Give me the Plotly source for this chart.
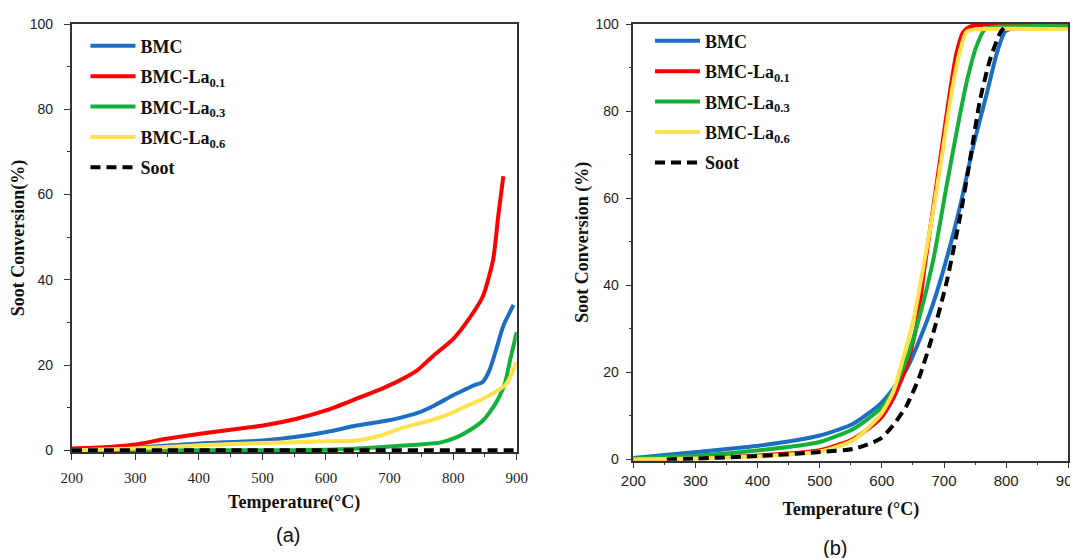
import plotly.graph_objects as go

# ---------------- data: panel (a) ----------------
a_bmc_x = [200, 297, 402, 501, 551, 601, 648, 690, 716, 743, 769, 800, 821, 832, 847, 858, 868, 879, 895]
a_bmc_y = [0.2, 0.6, 1.6, 2.3, 3.1, 4.3, 5.8, 6.8, 7.6, 8.7, 10.4, 12.9, 14.4, 15.2, 16.1, 19.1, 23.8, 29.2, 34.1]

a_la01_x = [200, 250, 297, 349, 402, 450, 501, 554, 601, 648, 690, 716, 743, 769, 800, 821, 847, 863, 871, 879]
a_la01_y = [0.4, 0.7, 1.3, 2.7, 3.9, 4.8, 5.8, 7.4, 9.4, 12.1, 14.6, 16.4, 18.7, 22.2, 26.1, 30.0, 36.2, 44.8, 55.0, 64.3]

a_la03_x = [200, 400, 501, 601, 650, 690, 743, 779, 806, 826, 847, 858, 871, 882, 890, 900]
a_la03_y = [0.0, 0.0, 0.0, 0.1, 0.4, 0.8, 1.3, 1.8, 3.1, 4.7, 7.0, 9.0, 12.1, 16.0, 21.4, 27.7]

a_la06_x = [200, 297, 402, 501, 601, 648, 685, 716, 743, 769, 795, 821, 847, 874, 884, 900]
a_la06_y = [0.0, 0.4, 1.2, 1.7, 2.1, 2.3, 3.4, 5.1, 6.2, 7.2, 8.6, 10.4, 12.1, 14.4, 15.6, 20.7]

a_soot_x = [200, 400, 600, 800, 900]
a_soot_y = [0.0, 0.0, 0.0, 0.0, 0.0]

# ---------------- data: panel (b) ----------------
b_bmc_x = [200, 302, 404, 500, 554, 597, 618, 640, 661, 683, 704, 726, 747, 769, 785, 798, 812, 900]
b_bmc_y = [0.3, 1.7, 3.2, 5.5, 8.2, 12.7, 16.2, 20.8, 27.6, 36.0, 46.0, 58.2, 71.9, 84.1, 93.3, 98.2, 99.0, 99.0]

b_la01_x = [200, 302, 404, 500, 554, 597, 618, 640, 656, 669, 683, 696, 710, 720, 731, 742, 790, 900]
b_la01_y = [0.0, 0.3, 0.9, 2.1, 4.7, 9.3, 13.9, 21.5, 30.7, 44.4, 58.2, 71.1, 84.9, 93.3, 98.2, 99.4, 100.0, 100.0]

b_la03_x = [200, 302, 404, 500, 554, 597, 618, 640, 661, 683, 704, 720, 736, 752, 766, 790, 900]
b_la03_y = [0.2, 0.9, 2.1, 4.0, 7.0, 11.6, 15.8, 23.1, 33.0, 46.0, 62.7, 75.0, 86.4, 94.8, 98.8, 99.4, 99.5]

b_la06_x = [200, 302, 404, 500, 554, 597, 618, 634, 651, 667, 683, 699, 712, 726, 736, 752, 900]
b_la06_y = [0.0, 0.2, 0.7, 1.8, 4.4, 10.1, 15.4, 23.1, 32.2, 44.4, 57.4, 71.9, 84.1, 94.0, 98.2, 98.8, 98.8]

b_soot_x = [254, 302, 404, 500, 554, 597, 618, 640, 661, 683, 704, 726, 742, 758, 774, 790, 798]
b_soot_y = [0.0, 0.2, 0.8, 1.7, 2.4, 4.7, 7.8, 12.4, 19.2, 29.2, 40.6, 55.9, 68.9, 82.6, 91.8, 97.9, 99.4]

names = ["BMC", "BMC-La<sub>0.1</sub>", "BMC-La<sub>0.3</sub>", "BMC-La<sub>0.6</sub>", "Soot"]
colors = ["#1D6EC2", "#FF0000", "#14B03A", "#FFE14D", "#000000"]
x_ticks = [200, 300, 400, 500, 600, 700, 800, 900]
y_ticks = [0, 20, 40, 60, 80, 100]

panel_a = [(a_bmc_x, a_bmc_y), (a_la01_x, a_la01_y), (a_la03_x, a_la03_y), (a_la06_x, a_la06_y), (a_soot_x, a_soot_y)]
panel_b = [(b_bmc_x, b_bmc_y), (b_la01_x, b_la01_y), (b_la03_x, b_la03_y), (b_la06_x, b_la06_y), (b_soot_x, b_soot_y)]

fig = go.Figure()
for panel, xa, ya, leg in [(panel_a, "x", "y", "legend"), (panel_b, "x2", "y2", "legend2")]:
    for i, (xs, ys) in enumerate(panel):
        dash = "10px,6px" if i == 4 else "solid"
        fig.add_trace(go.Scatter(
            x=xs, y=ys, mode="lines", name="<b>" + names[i] + "</b>",
            line=dict(color=colors[i], width=4, dash=dash, shape="spline", smoothing=0.6),
            xaxis=xa, yaxis=ya, legend=leg, legendgroup=f"{leg}{i}",
        ))

serif = "Liberation Serif"
sans = "Liberation Sans"
axis_common = dict(showline=True, linecolor="#333333", linewidth=1.5, mirror=True,
                   ticks="outside", ticklen=6, tickwidth=1.2, tickcolor="#333333",
                   showgrid=False, zeroline=False, automargin=False, ticklabeloverflow="allow")

W, H = 1070, 550  # page body has an 8px margin


def px_x(p):
    return (p - 8) / W


def px_y(p):
    return 1 - (p - 8) / H


fig.update_layout(
    width=W, height=H,
    margin=dict(l=0, r=0, t=0, b=0, pad=0),
    paper_bgcolor="white", plot_bgcolor="white",
    xaxis=dict(domain=[px_x(71.7), px_x(516.7)], range=[200, 900], tickvals=x_ticks,
               tickfont=dict(family=serif, size=15, color="#222"),
               minor=dict(dtick=50, ticks="outside", ticklen=3, tickcolor="#333333"),
               title=dict(text="<b>Temperature(°C)</b>", font=dict(family=serif, size=18, color="#111"), standoff=11),
               ticklabelstandoff=5,
               anchor="y", **axis_common),
    yaxis=dict(domain=[px_y(452), px_y(24)], range=[-0.4, 100], tickvals=y_ticks,
               tickfont=dict(family=sans, size=14, color="#222"),
               minor=dict(dtick=10, ticks="outside", ticklen=3, tickcolor="#333333"),
               title=dict(text="<b>Soot Conversion(%)</b>", font=dict(family=serif, size=18, color="#111"), standoff=4),
               ticklabelstandoff=8,
               anchor="x", **axis_common),
    xaxis2=dict(domain=[px_x(633.3), px_x(1068.3)], range=[200, 900], tickvals=x_ticks,
                tickfont=dict(family=sans, size=15, color="#222"),
                minor=dict(dtick=50, ticks="outside", ticklen=3, tickcolor="#333333"),
                title=dict(text="<b>Temperature (°C)</b>", font=dict(family=serif, size=18, color="#111"), standoff=14),
                anchor="y2", **axis_common),
    yaxis2=dict(domain=[px_y(460.7), px_y(24)], range=[-0.3, 100], tickvals=y_ticks,
                tickfont=dict(family=sans, size=14, color="#222"),
                minor=dict(dtick=10, ticks="outside", ticklen=3, tickcolor="#333333"),
                title=dict(text="<b>Soot Conversion (%)</b>", font=dict(family=serif, size=18, color="#111"), standoff=2),
                ticklabelstandoff=4,
                anchor="x2", **axis_common),
    legend=dict(x=0.0724, y=0.9645, xanchor="left", yanchor="top", bgcolor="rgba(0,0,0,0)",
                font=dict(family=serif, size=18, color="#111"), tracegroupgap=4, itemwidth=45),
    legend2=dict(x=0.600, y=0.9735, xanchor="left", yanchor="top", bgcolor="rgba(0,0,0,0)",
                 font=dict(family=serif, size=18, color="#111"), tracegroupgap=4, itemwidth=45),
    annotations=[
        dict(text="(a)", x=px_x(288), y=px_y(535), xref="paper", yref="paper",
             xanchor="center", yanchor="middle",
             showarrow=False, font=dict(family=sans, size=20, color="#111")),
        dict(text="(b)", x=px_x(835), y=px_y(548), xref="paper", yref="paper",
             xanchor="center", yanchor="middle",
             showarrow=False, font=dict(family=sans, size=20, color="#111")),
    ],
)

fig.write_html("out.html")
